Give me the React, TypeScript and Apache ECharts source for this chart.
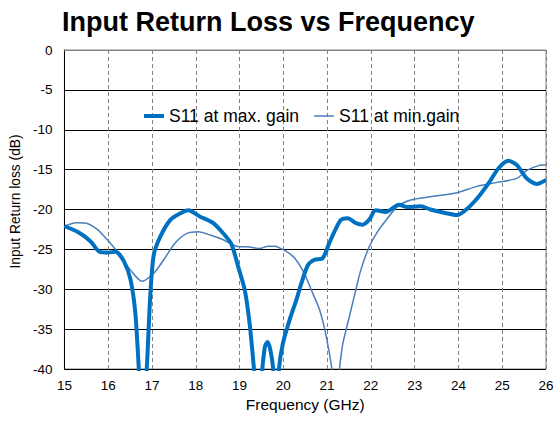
import React, { useEffect, useRef } from "react";
import * as echarts from "echarts";

const titleText = "Input Return Loss vs Frequency";
const xAxisName = "Frequency (GHz)";
const yAxisName = "Input Return loss (dB)";
const seriesNames = ["S11 at max. gain", "S11 at min.gain"];

const maxGainFreq = [
  15.0, 15.3, 15.6, 15.8, 16.0, 16.17, 16.36, 16.51, 16.62, 16.7, 16.78, 16.88, 16.96, 17.04, 17.19,
  17.42, 17.64, 17.83, 18.1, 18.4, 18.63, 18.82, 18.97, 19.12, 19.23, 19.33, 19.42, 19.52, 19.58,
  19.64, 19.7, 19.77, 19.84, 19.9, 19.99, 20.14, 20.3, 20.41, 20.56, 20.71, 20.9, 21.05, 21.2, 21.32,
  21.47, 21.66, 21.81, 21.96, 22.11, 22.34, 22.64, 22.83, 23.14, 23.36, 23.67, 23.97, 24.2, 24.46,
  24.69, 24.92, 25.14, 25.33, 25.56, 25.79, 26.0,
];
const maxGainVal = [
  -22.1, -22.8, -24.0, -25.3, -25.4, -25.3, -26.5, -28.8, -33.0, -40, -47, -40, -30.9, -25.7, -23.4,
  -21.3, -20.5, -20.1, -20.9, -21.7, -23.0, -24.4, -27.2, -30.1, -34.3, -40, -46, -40, -37.2,
  -36.6, -37.5, -40, -46, -40, -36.8, -33.9, -31.3, -29.3, -27.0, -26.3, -26.1, -24.2, -22.4, -21.3,
  -21.1, -21.7, -21.9, -21.3, -20.1, -20.3, -19.4, -19.7, -19.6, -20.0, -20.4, -20.7, -19.9, -18.4,
  -16.7, -14.8, -13.9, -14.4, -16.1, -16.8, -16.3,
];

const minGainFreq = [
  15.0, 15.26, 15.48, 15.75, 15.98, 16.24, 16.51, 16.77, 17.04, 17.27, 17.53, 17.8, 18.06, 18.33,
  18.63, 18.93, 19.23, 19.46, 19.65, 19.8, 20.05, 20.26, 20.48, 20.64, 20.83, 20.98, 21.11, 21.19,
  21.28, 21.36, 21.47, 21.62, 21.77, 21.96, 22.15, 22.38, 22.61, 22.91, 23.36, 23.97, 24.42, 24.88,
  25.33, 25.56, 25.83, 26.0,
];
const minGainVal = [
  -22.1, -21.65, -21.7, -22.5, -23.8, -25.5, -27.6, -29.0, -28.0, -26.3, -24.2, -23.0, -22.8, -23.2,
  -23.8, -24.6, -24.7, -24.9, -24.6, -24.6, -25.2, -26.1, -28.0, -30.1, -32.6, -35.9, -40, -44,
  -40, -36.8, -34.3, -30.9, -27.6, -24.7, -22.8, -21.1, -19.6, -18.8, -18.4, -17.9, -17.1, -16.6,
  -16.1, -15.1, -14.5, -14.4,
];

const xMin = 15;
const xMax = 26;
const yMin = -40;
const yMax = 0;

const pairs = (xs: number[], ys: number[]) => xs.map((x, i) => [x, ys[i]]);

export default function App() {
  const ref = useRef<HTMLDivElement>(null);
  useEffect(() => {
    if (!ref.current) return;
    const chart = echarts.init(ref.current, null, { renderer: "svg" });
    const font = "Liberation Sans, Arial, sans-serif";
    chart.setOption({
      animation: false,
      backgroundColor: "#ffffff",
      title: {
        text: titleText,
        left: 57,
        top: 3,
        textStyle: { fontFamily: font, fontSize: 27, fontWeight: "bold", color: "#000" },
      },
      legend: {
        left: 139,
        top: 102,
        itemWidth: 20,
        itemHeight: 14,
        itemGap: 15,
        symbolKeepAspect: true,
        textStyle: { fontFamily: font, fontSize: 17.5, color: "#000" },
        data: [
          { name: seriesNames[0], icon: "path://M0,0L20,0L20,4L0,4Z" },
          { name: seriesNames[1], icon: "path://M0,0L20,0L20,1.5L0,1.5Z" },
        ],
      },
      grid: {
        left: 62,
        right: 12,
        top: 50,
        bottom: 53,
        show: true,
        borderColor: "#808080",
        borderWidth: 1,
      },
      xAxis: {
        type: "value",
        min: xMin,
        max: xMax,
        interval: 1,
        name: xAxisName,
        nameLocation: "middle",
        nameGap: 27,
        nameTextStyle: { fontFamily: font, fontSize: 15.5, color: "#000" },
        axisLine: { show: true, lineStyle: { color: "#808080", width: 1 } },
        axisTick: { show: false },
        axisLabel: { fontFamily: font, fontSize: 13.5, color: "#000", margin: 9 },
        splitLine: { show: true, lineStyle: { color: "#808080", type: [4, 3], width: 1 } },
      },
      yAxis: {
        type: "value",
        min: yMin,
        max: yMax,
        interval: 5,
        name: yAxisName,
        nameLocation: "middle",
        nameGap: 36,
        nameTextStyle: { fontFamily: font, fontSize: 13.8, color: "#000", padding: [0, 0, 0, 16] },
        axisLine: { show: true, lineStyle: { color: "#000", width: 1 } },
        axisTick: { show: false },
        axisLabel: { fontFamily: font, fontSize: 13.5, color: "#000", margin: 12 },
        splitLine: { show: true, lineStyle: { color: "#000", width: 1 } },
      },
      series: [
        {
          name: seriesNames[0],
          type: "line",
          data: pairs(maxGainFreq, maxGainVal),
          showSymbol: false,
          symbol: "none",
          smooth: 0.25,
          clip: true,
          z: 3,
          lineStyle: { color: "#0070C0", width: 4 },
          itemStyle: { color: "#0070C0" },
        },
        {
          name: seriesNames[1],
          type: "line",
          data: pairs(minGainFreq, minGainVal),
          showSymbol: false,
          symbol: "none",
          smooth: 0.25,
          clip: true,
          z: 2,
          lineStyle: { color: "#4A7EBB", width: 1.5 },
          itemStyle: { color: "#4A7EBB" },
        },
      ],
    });
    return () => chart.dispose();
  }, []);
  return (
    <div
      ref={ref}
      style={{ position: "fixed", left: 0, top: 0, width: 558, height: 422, background: "#fff" }}
    />
  );
}
